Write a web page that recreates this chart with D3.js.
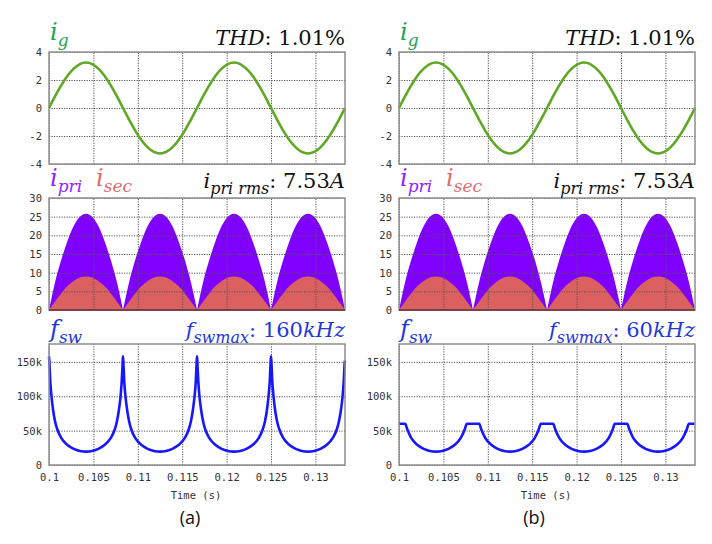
<!DOCTYPE html>
<html>
<head>
<meta charset="utf-8">
<script src="https://cdn.jsdelivr.net/npm/d3@7"></script>
<style>
  body { margin: 0; background: #fff; }
  svg text { font-family: "DejaVu Sans Mono", monospace; }
</style>
</head>
<body>
<svg id="chart" width="712" height="544"></svg>
<script>
// sample times for the grid current and the primary / secondary envelopes (15 deg of a 60 Hz cycle)
const time = [0.1, 0.10069, 0.10139, 0.10208, 0.10278, 0.10347, 0.10417, 0.10486, 0.10556, 0.10625,
  0.10694, 0.10764, 0.10833, 0.10903, 0.10972, 0.11042, 0.11111, 0.11181, 0.1125, 0.11319,
  0.11389, 0.11458, 0.11528, 0.11597, 0.11667, 0.11736, 0.11806, 0.11875, 0.11944, 0.12014,
  0.12083, 0.12153, 0.12222, 0.12292, 0.12361, 0.12431, 0.125, 0.12569, 0.12639, 0.12708,
  0.12778, 0.12847, 0.12917, 0.12986, 0.13056, 0.13125, 0.13194, 0.13264, 0.13333];

const ig = [0, 0.84, 1.63, 2.3, 2.81, 3.14, 3.25, 3.14, 2.81, 2.3, 1.63, 0.84,
  0, -0.84, -1.63, -2.3, -2.81, -3.14, -3.25, -3.14, -2.81, -2.3, -1.63, -0.84,
  0, 0.84, 1.63, 2.3, 2.81, 3.14, 3.25, 3.14, 2.81, 2.3, 1.63, 0.84,
  0, -0.84, -1.63, -2.3, -2.81, -3.14, -3.25, -3.14, -2.81, -2.3, -1.63, -0.84, 0];

const iPri = [0, 7.5, 13.5, 18.5, 22.5, 25, 25.8, 25, 22.5, 18.5, 13.5, 7.5,
  0, 7.5, 13.5, 18.5, 22.5, 25, 25.8, 25, 22.5, 18.5, 13.5, 7.5,
  0, 7.5, 13.5, 18.5, 22.5, 25, 25.8, 25, 22.5, 18.5, 13.5, 7.5,
  0, 7.5, 13.5, 18.5, 22.5, 25, 25.8, 25, 22.5, 18.5, 13.5, 7.5, 0];

const iSec = [0, 2.3, 4.5, 6.4, 7.8, 8.7, 9, 8.7, 7.8, 6.4, 4.5, 2.3,
  0, 2.3, 4.5, 6.4, 7.8, 8.7, 9, 8.7, 7.8, 6.4, 4.5, 2.3,
  0, 2.3, 4.5, 6.4, 7.8, 8.7, 9, 8.7, 7.8, 6.4, 4.5, 2.3,
  0, 2.3, 4.5, 6.4, 7.8, 8.7, 9, 8.7, 7.8, 6.4, 4.5, 2.3, 0];

// switching frequency samples, denser near the zero crossings
const fswTime = [
  0.1, 0.10005, 0.10014, 0.10028, 0.10046, 0.10069, 0.10093, 0.10139, 0.10208, 0.10278, 0.10347,
  0.10417, 0.10486, 0.10556, 0.10625, 0.10694, 0.10741, 0.10764, 0.10787, 0.10806, 0.10819, 0.10829,
  0.10833, 0.10838, 0.10847, 0.10861, 0.1088, 0.10903, 0.10926, 0.10972, 0.11042, 0.11111, 0.11181,
  0.1125, 0.11319, 0.11389, 0.11458, 0.11528, 0.11574, 0.11597, 0.1162, 0.11639, 0.11653, 0.11662,
  0.11667, 0.11671, 0.11681, 0.11694, 0.11713, 0.11736, 0.11759, 0.11806, 0.11875, 0.11944, 0.12014,
  0.12083, 0.12153, 0.12222, 0.12292, 0.12361, 0.12407, 0.12431, 0.12454, 0.12472, 0.12486, 0.12495,
  0.125, 0.12505, 0.12514, 0.12528, 0.12546, 0.12569, 0.12593, 0.12639, 0.12708, 0.12778, 0.12847,
  0.12917, 0.12986, 0.13056, 0.13125, 0.13194, 0.13241, 0.13264, 0.13287, 0.13306, 0.13319, 0.13329,
  0.13333];

// kHz
const fswA = [
  158, 148, 122, 100, 80, 63, 52, 39, 29, 23.5, 20.5, 19.5, 20.5, 23.5, 29, 39, 52, 63, 80, 100, 122, 148,
  158, 148, 122, 100, 80, 63, 52, 39, 29, 23.5, 20.5, 19.5, 20.5, 23.5, 29, 39, 52, 63, 80, 100, 122, 148,
  158, 148, 122, 100, 80, 63, 52, 39, 29, 23.5, 20.5, 19.5, 20.5, 23.5, 29, 39, 52, 63, 80, 100, 122, 148,
  158, 148, 122, 100, 80, 63, 52, 39, 29, 23.5, 20.5, 19.5, 20.5, 23.5, 29, 39, 52, 63, 80, 100, 122, 148,
  152];

const fswB = [
  60, 60, 60, 60, 60, 60, 52, 39, 29, 23.5, 20.5, 19.5, 20.5, 23.5, 29, 39, 52, 60, 60, 60, 60, 60,
  60, 60, 60, 60, 60, 60, 52, 39, 29, 23.5, 20.5, 19.5, 20.5, 23.5, 29, 39, 52, 60, 60, 60, 60, 60,
  60, 60, 60, 60, 60, 60, 52, 39, 29, 23.5, 20.5, 19.5, 20.5, 23.5, 29, 39, 52, 60, 60, 60, 60, 60,
  60, 60, 60, 60, 60, 60, 52, 39, 29, 23.5, 20.5, 19.5, 20.5, 23.5, 29, 39, 52, 60, 60, 60, 60, 60,
  60];

const timeTicks = [0.1, 0.105, 0.11, 0.115, 0.12, 0.125, 0.13];
const timeLabels = ["0.1", "0.105", "0.11", "0.115", "0.12", "0.125", "0.13"];
const igTicks = [-4, -2, 0, 2, 4];
const iTicks = [0, 5, 10, 15, 20, 25, 30];
const fswTicks = [0, 50, 100, 150];
const fswLabels = ["0", "50k", "100k", "150k"];
const thdText = ": 1.01%";
const rmsText = ": 7.53";
const fswMaxText = [": 160", ": 60"];
const panelNames = ["(a)", "(b)"];

const svg = d3.select("#chart");

const cols = [
  {x0: 49, x1: 345, fsw: fswA, max: fswMaxText[0], name: panelNames[0], nameDx: -7},
  {x0: 399, x1: 695, fsw: fswB, max: fswMaxText[1], name: panelNames[1], nameDx: -13}
];
const rows = {
  ig: {top: 52, bottom: 164},
  cur: {top: 198, bottom: 310},
  fsw: {top: 344, bottom: 465}
};

const green = "#5ea823", greenLabel = "#20a552";
const purple = "#8000ff", purpleLabel = "#9024ff";
const salmon = "#db6060", salmonLabel = "#e46a6a";
const blue = "#1616ff", blueLabel = "#1f37dc";

function grid(g, x, y, yTicks) {
  g.append("g")
    .attr("transform", `translate(0,${y.range()[0]})`)
    .call(d3.axisBottom(x).tickValues(timeTicks).tickSize(-(y.range()[0] - y.range()[1])).tickFormat(""))
    .call(a => a.select(".domain").remove())
    .call(a => a.selectAll("line").attr("stroke", "#555").attr("stroke-dasharray", "1.2,1.3"));
  g.append("g")
    .attr("transform", `translate(${x.range()[0]},0)`)
    .call(d3.axisLeft(y).tickValues(yTicks).tickSize(-(x.range()[1] - x.range()[0])).tickFormat(""))
    .call(a => a.select(".domain").remove())
    .call(a => a.selectAll("line").attr("stroke", "#555").attr("stroke-dasharray", "1.2,1.3"));
}

function yAxis(g, x, y, yTicks, yLabels) {
  g.append("g")
    .attr("transform", `translate(${x.range()[0]},0)`)
    .call(d3.axisLeft(y).tickValues(yTicks).tickSize(0).tickPadding(7).tickFormat((d, i) => yLabels[i]))
    .call(a => a.select(".domain").remove())
    .call(a => a.selectAll("text").attr("fill", "#333").style("font-size", "10.5px")
      .style("font-family", "'DejaVu Sans Mono', monospace"));
}

function frame(g, x, y) {
  g.append("rect")
    .attr("x", x.range()[0]).attr("y", y.range()[1])
    .attr("width", x.range()[1] - x.range()[0])
    .attr("height", y.range()[0] - y.range()[1])
    .attr("fill", "none").attr("stroke", "#8e8e8e").attr("stroke-width", 1.5);
}

// size: [main, subscript]
function mathText(x, y, anchor, color, parts, size) {
  const t = svg.append("text")
    .attr("x", x).attr("y", y).attr("text-anchor", anchor).attr("fill", color)
    .style("font-family", "'DejaVu Serif', serif").style("font-size", size[0] + "px");
  let shift = 0;
  parts.forEach(p => {
    const s = p.sub ? 6 : 0;
    t.append("tspan")
      .attr("dy", s - shift)
      .style("font-style", p.it ? "italic" : "normal")
      .style("font-size", p.sub ? size[1] + "px" : null)
      .text(p.t);
    shift = s;
  });
}

// split a series into humps between zeros so each V bottom stays sharp
function humps(values) {
  const out = [];
  let start = 0;
  values.forEach((v, i) => {
    if (i > 0 && v === 0) { out.push(d3.range(start, i + 1)); start = i; }
  });
  return out;
}

const labelSize = [24, 17], valueSize = [21, 16];

cols.forEach(c => {
  const x = d3.scaleLinear().domain([0.1, 0.13333]).range([c.x0, c.x1]);

  // grid current
  const yIg = d3.scaleLinear().domain([-4, 4]).range([rows.ig.bottom, rows.ig.top]);
  const gIg = svg.append("g");
  grid(gIg, x, yIg, igTicks);
  gIg.append("path")
    .datum(d3.range(time.length))
    .attr("fill", "none").attr("stroke", green).attr("stroke-width", 2.6)
    .attr("d", d3.line().x(i => x(time[i])).y(i => yIg(ig[i])).curve(d3.curveMonotoneX));
  frame(gIg, x, yIg);
  yAxis(gIg, x, yIg, igTicks, igTicks.map(String));

  // primary and secondary currents
  const yI = d3.scaleLinear().domain([0, 30]).range([rows.cur.bottom, rows.cur.top]);
  const gI = svg.append("g");
  const areaOf = vals => d3.area().x(i => x(time[i])).y0(yI(0)).y1(i => yI(vals[i])).curve(d3.curveMonotoneX);
  gI.selectAll("path.pri").data(humps(iPri)).join("path")
    .attr("class", "pri").attr("fill", purple).attr("d", areaOf(iPri));
  gI.selectAll("path.sec").data(humps(iSec)).join("path")
    .attr("class", "sec").attr("fill", salmon).attr("d", areaOf(iSec));
  grid(gI, x, yI, iTicks);
  frame(gI, x, yI);
  gI.append("line")
    .attr("x1", x.range()[0]).attr("x2", x.range()[1])
    .attr("y1", yI(0)).attr("y2", yI(0))
    .attr("stroke", "#6e2c2c").attr("stroke-width", 1.5);
  yAxis(gI, x, yI, iTicks, iTicks.map(String));

  // switching frequency
  const yF = d3.scaleLinear().domain([0, 176]).range([rows.fsw.bottom, rows.fsw.top]);
  const gF = svg.append("g");
  grid(gF, x, yF, fswTicks);
  gF.append("path")
    .datum(d3.range(fswTime.length))
    .attr("fill", "none").attr("stroke", blue).attr("stroke-width", 2.6)
    .attr("stroke-linejoin", "round")
    .attr("d", d3.line().x(i => x(fswTime[i])).y(i => yF(c.fsw[i])).curve(d3.curveMonotoneX));
  frame(gF, x, yF);
  yAxis(gF, x, yF, fswTicks, fswLabels);

  gF.append("g")
    .attr("transform", `translate(0,${rows.fsw.bottom})`)
    .call(d3.axisBottom(x).tickValues(timeTicks).tickSize(0).tickPadding(9).tickFormat((d, i) => timeLabels[i]))
    .call(a => a.select(".domain").remove())
    .call(a => a.selectAll("text").attr("fill", "#333").style("font-size", "10.5px")
      .style("font-family", "'DejaVu Sans Mono', monospace"));

  const mid = (c.x0 + c.x1) / 2;
  svg.append("text")
    .attr("x", mid - 1).attr("y", 499).attr("text-anchor", "middle")
    .attr("fill", "#333").style("font-size", "10.5px")
    .text("Time (s)");
  svg.append("text")
    .attr("x", mid + c.nameDx).attr("y", 524).attr("text-anchor", "middle")
    .attr("fill", "#111").style("font-family", "'Open Sans', sans-serif").style("font-size", "18px")
    .text(c.name);

  // headers
  mathText(c.x0 + 1, 40, "start", greenLabel, [{t: "i", it: 1}, {t: "g", it: 1, sub: 1}], labelSize);
  mathText(c.x1, 45, "end", "#111", [{t: "THD", it: 1}, {t: thdText}], valueSize);

  mathText(c.x0 + 1, 186, "start", purpleLabel, [{t: "i", it: 1}, {t: "pri", it: 1, sub: 1}], labelSize);
  mathText(c.x0 + 47, 186, "start", salmonLabel, [{t: "i", it: 1}, {t: "sec", it: 1, sub: 1}], labelSize);
  mathText(c.x1, 188, "end", "#111",
    [{t: "i", it: 1}, {t: "pri rms", it: 1, sub: 1}, {t: rmsText}, {t: "A", it: 1}], valueSize);

  mathText(c.x0 + 1, 337, "start", blueLabel, [{t: "f", it: 1}, {t: "sw", it: 1, sub: 1}], labelSize);
  mathText(c.x1, 337, "end", blueLabel,
    [{t: "f", it: 1}, {t: "swmax", it: 1, sub: 1}, {t: c.max}, {t: "kHz", it: 1}], valueSize);
});
</script>
</body>
</html>
